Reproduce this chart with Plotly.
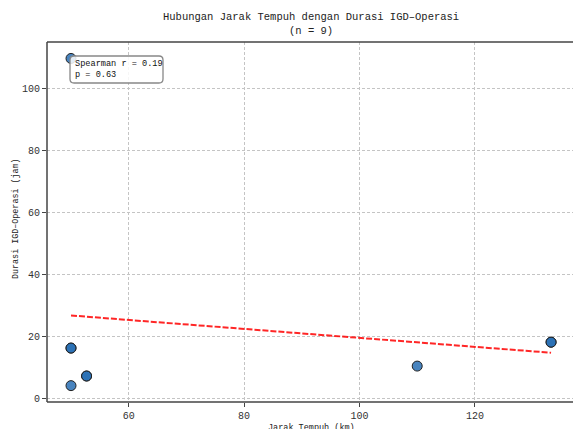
import plotly.graph_objects as go

# Data
jarak_km = [50.0, 50.0, 50.0, 50.0, 52.7, 52.7, 110.0, 133.2, 133.2]
durasi_jam = [109.6, 16.3, 16.3, 4.2, 7.3, 7.3, 10.5, 18.2, 18.2]
trend_x = [50.0, 133.2]
trend_y = [26.8, 14.8]
x_ticks = [60, 80, 100, 120]
y_ticks = [0, 20, 40, 60, 80, 100]
title_text = "Hubungan Jarak Tempuh dengan Durasi IGD–Operasi<br>(n = 9)"
stat_text = "Spearman r = 0.19<br>p = 0.63"
x_title = "Jarak Tempuh (km)"
y_title = "Durasi IGD–Operasi (jam)"

FONT = "Liberation Mono, DejaVu Sans Mono, monospace"
W, H = 573, 429
L, T, B = 47, 42, 27
PW, PH = W - L, H - T - B

def px_x(v):
    return (v - L) / PW

def px_y(v):
    return 1 - (v - T) / PH

fig = go.Figure()
fig.add_trace(go.Scatter(
    x=jarak_km, y=durasi_jam, mode="markers",
    marker=dict(size=10, color="rgba(40,110,180,0.85)",
                line=dict(color="#222222", width=1)),
    showlegend=False, hoverinfo="skip"))
fig.add_trace(go.Scatter(
    x=trend_x, y=trend_y, mode="lines",
    line=dict(color="rgba(255,0,0,0.85)", width=2, dash="6px,2px"),
    showlegend=False, hoverinfo="skip"))

axis_common = dict(
    showgrid=True, gridcolor="#c4c4c4", griddash="3px,2px", gridwidth=1,
    zeroline=False, ticks="outside", ticklen=4, tickcolor="#444",
    tickfont=dict(family=FONT, size=10, color="#333"),
    showline=False, automargin=False,
)
fig.update_xaxes(range=[45.84, 137.0], tickvals=x_ticks, **axis_common)
fig.update_yaxes(range=[-1.07, 114.9], tickvals=y_ticks, **axis_common)

# spines (left, top, bottom) - right edge falls outside the window
spine = dict(color="#444", width=1.5)
fig.add_shape(type="line", xref="paper", yref="paper", x0=0, x1=0, y0=0, y1=1, line=spine)
fig.add_shape(type="line", xref="paper", yref="paper", x0=0, x1=1, y0=1, y1=1, line=spine)
fig.add_shape(type="line", xref="paper", yref="paper", x0=0, x1=1, y0=0, y1=0, line=spine)

# rounded stats box
x0, x1 = px_x(70), px_x(163)
y0, y1 = px_y(83), px_y(56)
rx, ry = 4 / PW, 4 / PH
path = (f"M {x0+rx},{y0} L {x1-rx},{y0} Q {x1},{y0} {x1},{y0+ry} "
        f"L {x1},{y1-ry} Q {x1},{y1} {x1-rx},{y1} L {x0+rx},{y1} "
        f"Q {x0},{y1} {x0},{y1-ry} L {x0},{y0+ry} Q {x0},{y0} {x0+rx},{y0} Z")
fig.add_shape(type="path", xref="paper", yref="paper", path=path,
              fillcolor="rgba(255,255,255,0.85)", line=dict(color="#888", width=1.3),
              layer="above")
fig.add_annotation(
    text=stat_text, xref="paper", yref="paper", x=px_x(73), y=px_y(57),
    xanchor="left", yanchor="top", align="left", showarrow=False,
    font=dict(family=FONT, size=8.6, color="#111"))

fig.add_annotation(
    text=title_text, xref="paper", yref="paper", x=px_x(311), y=1,
    yshift=3, xanchor="center", yanchor="bottom", showarrow=False,
    font=dict(family=FONT, size=10.5, color="#222"))

fig.add_annotation(
    text=x_title, xref="paper", yref="paper", x=px_x(311), y=0,
    yshift=-19, xanchor="center", yanchor="top", showarrow=False,
    font=dict(family=FONT, size=8.5, color="#222"))

fig.add_annotation(
    text=y_title, xref="paper", yref="paper", x=0, y=px_y(219),
    xshift=-24, xanchor="right", yanchor="middle", textangle=-90, showarrow=False,
    font=dict(family=FONT, size=8.4, color="#222"))

fig.update_layout(
    width=W, height=H,
    margin=dict(l=L, r=0, t=T, b=B),
    paper_bgcolor="white", plot_bgcolor="white",
)

fig.write_html(
    "out.html",
    config={"displayModeBar": False},
    post_script="document.body.style.margin='0';document.body.style.overflow='hidden';",
)
